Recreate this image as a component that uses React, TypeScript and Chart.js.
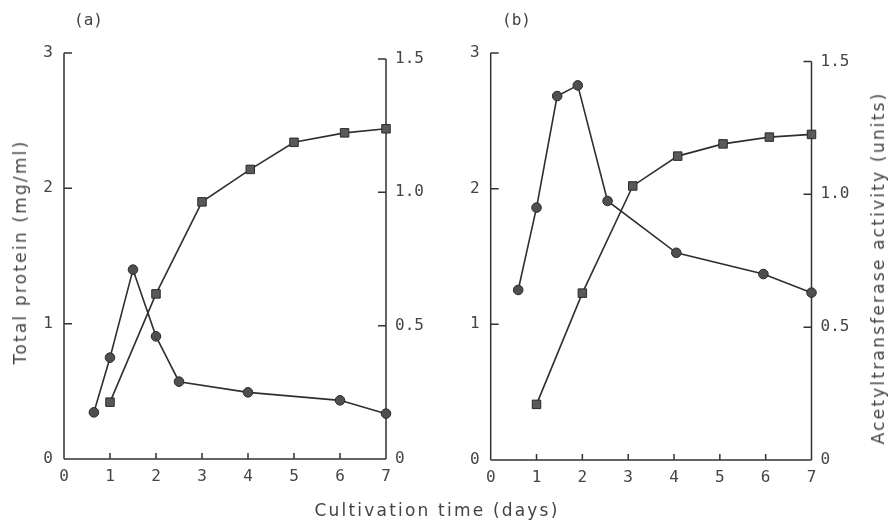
import React, { useEffect, useRef } from "react";
import { Chart, registerables } from "chart.js";

Chart.register(...registerables);

// ---- data ----
const dayTicks = [0, 1, 2, 3, 4, 5, 6, 7];
const proteinTicks = [0, 1, 2, 3];
const activityTicks = [0, 0.5, 1.0, 1.5];

// panel (a)
const aActivityDays = [0.65, 1, 1.5, 2, 2.5, 4, 6, 7];
const aActivity = [0.175, 0.38, 0.71, 0.46, 0.29, 0.25, 0.22, 0.17];
const aProteinDays = [1, 2, 3, 4.05, 5, 6.1, 7];
const aProtein = [0.42, 1.22, 1.9, 2.14, 2.34, 2.41, 2.44];

// panel (b)
const bActivityDays = [0.6, 1, 1.45, 1.9, 2.55, 4.05, 5.95, 7];
const bActivity = [0.64, 0.95, 1.37, 1.41, 0.975, 0.78, 0.7, 0.63];
const bProteinDays = [1, 2, 3.1, 4.08, 5.07, 6.08, 7];
const bProtein = [0.41, 1.23, 2.02, 2.24, 2.33, 2.38, 2.4];

const panelLabels = ["(a)", "(b)"];
const xTitle = "Cultivation time (days)";
const leftTitle = "Total protein (mg/ml)";
const rightTitle = "Acetyltransferase activity (units)";

// ---- styles ----
const TEXT = "#444";
const LINE = "#2f2f2f";
const tickFont = { family: "'DejaVu Sans Mono', monospace", size: 16 };
const titleFont = "'DejaVu Sans', sans-serif";

type PanelCfg = {
  left: number;
  width: number;
  padTop: number;
  leftW: number;
  rightW: number;
  bottomH: number;
  rightMax: number;
  actDays: number[];
  act: number[];
  protDays: number[];
  prot: number[];
};

const panels: PanelCfg[] = [
  {
    left: 0, width: 445, padTop: 53, leftW: 64, rightW: 59, bottomH: 62, rightMax: 1.5225,
    actDays: aActivityDays, act: aActivity, protDays: aProteinDays, prot: aProtein,
  },
  {
    left: 445, width: 446, padTop: 53, leftW: 45.7, rightW: 79.5, bottomH: 61, rightMax: 1.532,
    actDays: bActivityDays, act: bActivity, protDays: bProteinDays, prot: bProtein,
  },
];

const axesPlugin = {
  id: "sciAxes",
  beforeDatasetsDraw(chart: any) {
    const { ctx } = chart;
    const xs = chart.scales.x;
    const ys = chart.scales.y;
    const yr = chart.scales.y1;
    const x0 = xs.getPixelForValue(dayTicks[0]);
    const x7 = xs.getPixelForValue(dayTicks[dayTicks.length - 1]);
    const yb = ys.getPixelForValue(0);
    ctx.save();
    ctx.strokeStyle = "#333";
    ctx.lineWidth = 1.5;
    ctx.beginPath();
    // x axis
    ctx.moveTo(x0, yb);
    ctx.lineTo(x7, yb);
    dayTicks.forEach((v, i) => {
      if (i === 0 || i === dayTicks.length - 1) return;
      const p = xs.getPixelForValue(v);
      ctx.moveTo(p, yb);
      ctx.lineTo(p, yb - 6);
    });
    // left axis
    ctx.moveTo(x0, yb);
    ctx.lineTo(x0, ys.getPixelForValue(proteinTicks[proteinTicks.length - 1]));
    proteinTicks.forEach((v) => {
      if (v === 0) return;
      const p = ys.getPixelForValue(v);
      ctx.moveTo(x0, p);
      ctx.lineTo(x0 + 8, p);
    });
    // right axis
    ctx.moveTo(x7, yb);
    ctx.lineTo(x7, yr.getPixelForValue(activityTicks[activityTicks.length - 1]));
    activityTicks.forEach((v) => {
      if (v === 0) return;
      const p = yr.getPixelForValue(v);
      ctx.moveTo(x7, p);
      ctx.lineTo(x7 - 8, p);
    });
    ctx.stroke();
    ctx.restore();
  },
};

function Panel({ cfg }: { cfg: PanelCfg }) {
  const ref = useRef<HTMLCanvasElement>(null);
  useEffect(() => {
    const chart = new Chart(ref.current as HTMLCanvasElement, {
      type: "line",
      data: {
        datasets: [
          {
            label: "Total protein",
            data: cfg.protDays.map((d, i) => ({ x: d, y: cfg.prot[i] })),
            yAxisID: "y",
            borderColor: LINE,
            borderWidth: 1.6,
            pointStyle: "rect",
            pointRadius: 6,
            pointBackgroundColor: "#595959",
            pointBorderColor: "#2a2a2a",
            pointBorderWidth: 1,
            tension: 0,
            clip: false,
          },
          {
            label: "Acetyltransferase activity",
            data: cfg.actDays.map((d, i) => ({ x: d, y: cfg.act[i] })),
            yAxisID: "y1",
            borderColor: LINE,
            borderWidth: 1.6,
            pointStyle: "circle",
            pointRadius: 4.8,
            pointBackgroundColor: "#4f4f4f",
            pointBorderColor: "#2a2a2a",
            pointBorderWidth: 1,
            tension: 0,
            clip: false,
          },
        ],
      },
      options: {
        responsive: false,
        maintainAspectRatio: false,
        animation: false,
        layout: { padding: { top: cfg.padTop, left: 0, right: 0, bottom: 0 } },
        plugins: { legend: { display: false }, tooltip: { enabled: false }, title: { display: false } },
        scales: {
          x: {
            type: "linear",
            position: "bottom",
            min: dayTicks[0],
            max: dayTicks[dayTicks.length - 1],
            afterBuildTicks: (s: any) => {
              s.ticks = dayTicks.map((v) => ({ value: v }));
            },
            afterFit: (s: any) => {
              s.height = cfg.bottomH;
            },
            ticks: { font: tickFont, color: TEXT, padding: 8, maxRotation: 0, autoSkip: false, callback: (v: any) => String(v) },
            grid: { display: false, drawTicks: false },
            border: { display: false },
          },
          y: {
            type: "linear",
            position: "left",
            min: 0,
            max: proteinTicks[proteinTicks.length - 1],
            afterBuildTicks: (s: any) => {
              s.ticks = proteinTicks.map((v) => ({ value: v }));
            },
            afterFit: (s: any) => {
              s.width = cfg.leftW;
            },
            ticks: { font: tickFont, color: TEXT, padding: 11, callback: (v: any) => String(v) },
            grid: { display: false, drawTicks: false },
            border: { display: false },
          },
          y1: {
            type: "linear",
            position: "right",
            min: 0,
            max: cfg.rightMax,
            afterBuildTicks: (s: any) => {
              s.ticks = activityTicks.map((v) => ({ value: v }));
            },
            afterFit: (s: any) => {
              s.width = cfg.rightW;
            },
            ticks: {
              font: tickFont,
              color: TEXT,
              padding: 9,
              callback: (v: any) => (v === 0 ? "0" : Number(v).toFixed(1)),
            },
            grid: { display: false, drawTicks: false },
            border: { display: false },
          },
        },
      },
      plugins: [axesPlugin],
    } as any);
    return () => chart.destroy();
  }, [cfg]);
  return (
    <canvas
      ref={ref}
      width={cfg.width}
      height={521}
      style={{ position: "absolute", left: cfg.left, top: 0, width: cfg.width, height: 521 }}
    />
  );
}

const textBase: React.CSSProperties = {
  position: "absolute",
  whiteSpace: "nowrap",
  color: TEXT,
  fontFamily: titleFont,
  fontSize: 17,
  lineHeight: "20px",
  letterSpacing: "2.2px",
};

export default function App() {
  return (
    <div style={{ position: "absolute", left: 0, top: 0, width: 891, height: 521, background: "#fff", overflow: "hidden" }}>
      <Panel cfg={panels[0]} />
      <Panel cfg={panels[1]} />
      <div style={{ ...textBase, fontFamily: "'DejaVu Sans Mono', monospace", fontSize: 16, letterSpacing: "0px", left: 74, top: 10 }}>
        {panelLabels[0]}
      </div>
      <div style={{ ...textBase, fontFamily: "'DejaVu Sans Mono', monospace", fontSize: 16, letterSpacing: "0px", left: 502, top: 10 }}>
        {panelLabels[1]}
      </div>
      <div style={{ ...textBase, left: 437, top: 500, transform: "translateX(-50%)" }}>{xTitle}</div>
      <div style={{ ...textBase, left: 20, top: 252, transform: "translate(-50%, -50%) rotate(-90deg)" }}>{leftTitle}</div>
      <div style={{ ...textBase, left: 878, top: 268, transform: "translate(-50%, -50%) rotate(-90deg)" }}>{rightTitle}</div>
    </div>
  );
}
